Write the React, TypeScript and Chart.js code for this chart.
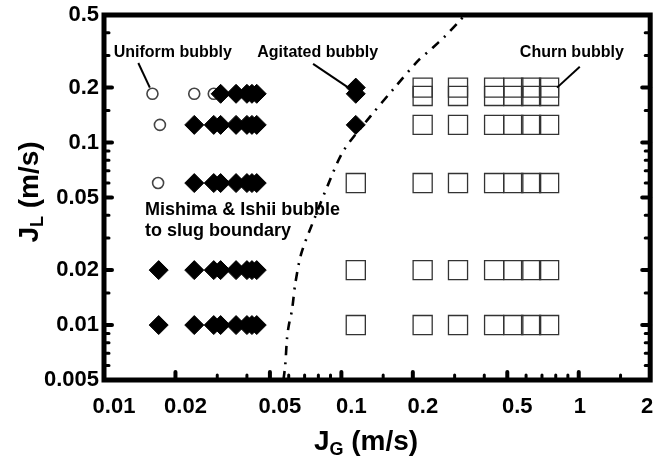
import { useEffect, useRef } from 'react';
import { Chart, registerables } from 'chart.js';

Chart.register(...registerables);

const FONT = '"Liberation Sans", Arial, Helvetica, sans-serif';

// Uniform bubbly observations (open circles)
const uniformJG = [0.016, 0.024, 0.029, 0.0172, 0.0169];
const uniformJL = [0.185, 0.185, 0.185, 0.125, 0.06];

// Agitated bubbly observations (filled diamonds)
const agitatedJG = [
  0.031, 0.036, 0.040, 0.042, 0.044, 0.115, 0.115,
  0.024, 0.029, 0.031, 0.036, 0.040, 0.042, 0.044, 0.115,
  0.024, 0.029, 0.031, 0.036, 0.040, 0.042, 0.044,
  0.017, 0.024, 0.029, 0.031, 0.036, 0.040, 0.042, 0.044,
  0.017, 0.024, 0.029, 0.031, 0.036, 0.040, 0.042, 0.044,
];
const agitatedJL = [
  0.185, 0.185, 0.185, 0.185, 0.185, 0.185, 0.2,
  0.125, 0.125, 0.125, 0.125, 0.125, 0.125, 0.125, 0.125,
  0.06, 0.06, 0.06, 0.06, 0.06, 0.06, 0.06,
  0.02, 0.02, 0.02, 0.02, 0.02, 0.02, 0.02, 0.02,
  0.01, 0.01, 0.01, 0.01, 0.01, 0.01, 0.01, 0.01,
];

// Churn bubbly observations (open squares)
const churnJG = [
  0.22, 0.31, 0.44, 0.53, 0.63, 0.75,
  0.22, 0.31, 0.44, 0.53, 0.63, 0.75,
  0.22, 0.31, 0.44, 0.53, 0.63, 0.75,
  0.115, 0.22, 0.31, 0.44, 0.53, 0.63, 0.75,
  0.115, 0.22, 0.31, 0.44, 0.53, 0.63, 0.75,
  0.115, 0.22, 0.31, 0.44, 0.53, 0.63, 0.75,
];
const churnJL = [
  0.2, 0.2, 0.2, 0.2, 0.2, 0.2,
  0.18, 0.18, 0.18, 0.18, 0.18, 0.18,
  0.125, 0.125, 0.125, 0.125, 0.125, 0.125,
  0.06, 0.06, 0.06, 0.06, 0.06, 0.06, 0.06,
  0.02, 0.02, 0.02, 0.02, 0.02, 0.02, 0.02,
  0.01, 0.01, 0.01, 0.01, 0.01, 0.01, 0.01,
];

// Mishima & Ishii bubble-to-slug transition
const boundaryJG = [0.057, 0.058, 0.059, 0.060, 0.062, 0.064, 0.068, 0.078, 0.088, 0.102, 0.133, 0.166, 0.21, 0.242, 0.272, 0.313, 0.33];
const boundaryJL = [0.005, 0.006, 0.0084, 0.0099, 0.0122, 0.017, 0.025, 0.04, 0.059, 0.09, 0.14, 0.197, 0.28, 0.33, 0.38, 0.46, 0.5];

// Labelled tick values
const xTickLabels = [0.01, 0.02, 0.05, 0.1, 0.2, 0.5, 1, 2];
const yTickLabels = [0.005, 0.01, 0.02, 0.05, 0.1, 0.2, 0.5];

// Regime call-outs: text anchor and leader line, in data units
const regimeNotes = [
  { text: 'Uniform bubbly', x: 0.0195, y: 0.31, from: [0.01395, 0.273], to: [0.0156, 0.2] },
  { text: 'Agitated bubbly', x: 0.0795, y: 0.31, from: [0.076, 0.27], to: [0.107, 0.2] },
  { text: 'Churn bubbly', x: 0.935, y: 0.31, from: [1.01, 0.26], to: [0.81, 0.2] },
];
const boundaryNote = ['Mishima & Ishii bubble', 'to slug boundary'];
const boundaryNoteAt = { x: 0.0149, y1: 0.0427, y2: 0.0328 };

const isLabelled = (v: number, list: number[]) => list.some((l) => Math.abs(v - l) / l < 1e-6);

const toPoints = (xs: number[], ys: number[]) => xs.map((x, i) => ({ x, y: ys[i] }));

const framePlugin = {
  id: 'frame',
  afterDatasetsDraw(chart: any) {
    const { ctx, chartArea, scales } = chart;
    const { left, right, top, bottom } = chartArea;
    const xs = scales.x;
    const ys = scales.y;
    ctx.save();

    // inward tick marks
    ctx.strokeStyle = '#000';
    ctx.lineCap = 'round';
    xs.ticks.forEach((t: any) => {
      const px = xs.getPixelForValue(t.value);
      if (px < left + 2 || px > right - 2) return;
      const major = isLabelled(t.value, xTickLabels);
      ctx.lineWidth = major ? 4 : 3;
      ctx.beginPath();
      ctx.moveTo(px, bottom);
      ctx.lineTo(px, bottom - (major ? 8 : 5));
      ctx.stroke();
    });
    ys.ticks.forEach((t: any) => {
      const py = ys.getPixelForValue(t.value);
      if (py < top + 2 || py > bottom - 2) return;
      const major = isLabelled(t.value, yTickLabels);
      ctx.lineWidth = major ? 4 : 3;
      const len = major ? 8 : 5;
      ctx.beginPath();
      ctx.moveTo(left, py);
      ctx.lineTo(left + len, py);
      ctx.moveTo(right, py);
      ctx.lineTo(right - len, py);
      ctx.stroke();
    });

    // plot frame
    ctx.lineWidth = 5;
    ctx.lineCap = 'butt';
    ctx.strokeRect(left, top, right - left, bottom - top);

    // x tick labels; the fractional ones sit a little right of their ticks
    ctx.fillStyle = '#000';
    ctx.font = `bold 22px ${FONT}`;
    ctx.textAlign = 'center';
    ctx.textBaseline = 'middle';
    xTickLabels.forEach((v) => {
      const shift = v < 1 ? 10 : v === 1 ? 1 : -3;
      ctx.fillText(String(v), xs.getPixelForValue(v) + shift, bottom + 27);
    });

    // regime call-outs
    ctx.font = `bold 16px ${FONT}`;
    ctx.lineWidth = 2;
    regimeNotes.forEach((n) => {
      ctx.fillText(n.text, xs.getPixelForValue(n.x), ys.getPixelForValue(n.y));
      ctx.beginPath();
      ctx.moveTo(xs.getPixelForValue(n.from[0]), ys.getPixelForValue(n.from[1]));
      ctx.lineTo(xs.getPixelForValue(n.to[0]), ys.getPixelForValue(n.to[1]));
      ctx.stroke();
    });

    ctx.font = `bold 18px ${FONT}`;
    ctx.textAlign = 'left';
    const bx = xs.getPixelForValue(boundaryNoteAt.x);
    ctx.fillText(boundaryNote[0], bx, ys.getPixelForValue(boundaryNoteAt.y1));
    ctx.fillText(boundaryNote[1], bx, ys.getPixelForValue(boundaryNoteAt.y2));

    // axis titles with subscripts
    const drawTitle = (sub: string) => {
      const big = `bold 28px ${FONT}`;
      const small = `bold 18px ${FONT}`;
      ctx.font = big;
      const wJ = ctx.measureText('J').width;
      const wRest = ctx.measureText(' (m/s)').width;
      ctx.font = small;
      const wSub = ctx.measureText(sub).width;
      const total = wJ + wSub + wRest;
      let cx = -total / 2;
      ctx.textAlign = 'left';
      ctx.textBaseline = 'alphabetic';
      ctx.font = big;
      ctx.fillText('J', cx, 10);
      cx += wJ;
      ctx.font = small;
      ctx.fillText(sub, cx, 15);
      cx += wSub;
      ctx.font = big;
      ctx.fillText(' (m/s)', cx, 10);
    };
    ctx.save();
    ctx.translate(366, 440);
    drawTitle('G');
    ctx.restore();
    ctx.save();
    ctx.translate(28, 192);
    ctx.rotate(-Math.PI / 2);
    drawTitle('L');
    ctx.restore();

    ctx.restore();
  },
};

export default function App() {
  const ref = useRef<HTMLCanvasElement | null>(null);

  useEffect(() => {
    if (!ref.current) return;
    const chart = new Chart(ref.current, {
      type: 'scatter',
      data: {
        datasets: [
          {
            label: 'Agitated bubbly',
            data: toPoints(agitatedJG, agitatedJL),
            pointStyle: 'rectRot',
            pointRadius: 9.5,
            backgroundColor: '#000',
            borderColor: '#000',
            borderWidth: 1,
            order: 1,
          },
          {
            label: 'Uniform bubbly',
            data: toPoints(uniformJG, uniformJL),
            pointStyle: 'circle',
            pointRadius: 5.5,
            backgroundColor: '#fff',
            borderColor: '#444',
            borderWidth: 1.6,
            order: 2,
          },
          {
            label: 'Churn bubbly',
            data: toPoints(churnJG, churnJL),
            pointStyle: 'rect',
            pointRadius: 13.5,
            backgroundColor: 'rgba(0,0,0,0)',
            borderColor: '#333',
            borderWidth: 1.3,
            order: 3,
          },
          {
            label: 'Mishima & Ishii',
            data: toPoints(boundaryJG, boundaryJL),
            showLine: true,
            pointRadius: 0,
            borderColor: '#000',
            borderWidth: 2.6,
            borderDash: [9, 7, 2, 7],
            tension: 0.3,
            order: 4,
          } as any,
        ],
      },
      options: {
        animation: false,
        responsive: false,
        devicePixelRatio: 1,
        events: [],
        layout: { padding: { left: 0, right: 6, top: 15, bottom: 0 } },
        plugins: { legend: { display: false }, tooltip: { enabled: false } },
        scales: {
          x: {
            type: 'logarithmic',
            min: 0.01,
            max: 2,
            grid: { display: false, drawTicks: false },
            border: { display: false },
            afterFit: (s: any) => {
              s.height = 80;
              s.paddingLeft = 0;
              s.paddingRight = 0;
            },
            ticks: { display: false, autoSkip: false },
          },
          y: {
            type: 'logarithmic',
            min: 0.005,
            max: 0.5,
            grid: { display: false, drawTicks: false },
            border: { display: false },
            afterFit: (s: any) => {
              s.width = 104;
              s.paddingTop = 0;
              s.paddingBottom = 0;
            },
            ticks: {
              autoSkip: false,
              padding: 5,
              color: '#000',
              font: { family: FONT, size: 22, weight: 'bold' },
              callback: (v: any) => (isLabelled(Number(v), yTickLabels) ? String(Number(v)) : ''),
            },
          },
        },
      } as any,
      plugins: [framePlugin],
    });
    return () => chart.destroy();
  }, []);

  return (
    <div style={{ position: 'absolute', left: 0, top: 0, width: 665, height: 460, background: '#fff' }}>
      <canvas ref={ref} width={665} height={460} style={{ display: 'block', width: 665, height: 460 }} />
    </div>
  );
}
